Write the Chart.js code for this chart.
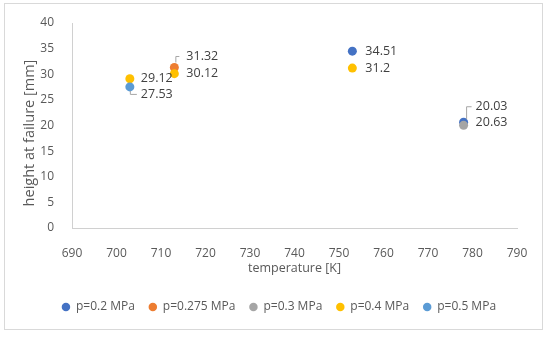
<html lang="en">

<head>
  <meta charset="utf-8">
  <script src="https://cdn.jsdelivr.net/npm/chart.js"></script>
  <style>
    body { margin: 0; background: #fff; }
    .box {
      position: absolute; left: 4px; top: 3px;
      width: 539px; height: 327px;
      box-sizing: border-box; border: 1px solid #d9d9d9;
    }
    .box canvas { display: block; }
  </style>
</head>

<body>
  <div class="box">
    <canvas id="graphique" width="537" height="325"></canvas>
  </div>

  <script>
    // data
    const seriesNames = ['p=0.2 MPa', 'p=0.275 MPa', 'p=0.3 MPa', 'p=0.4 MPa', 'p=0.5 MPa'];
    const p02Temp = [753, 778];
    const p02Height = [34.51, 20.63];
    const p0275Temp = [713];
    const p0275Height = [31.32];
    const p03Temp = [778];
    const p03Height = [20.03];
    const p04Temp = [703, 713, 753];
    const p04Height = [29.12, 30.12, 31.2];
    const p05Temp = [703];
    const p05Height = [27.53];
    const xTicks = [690, 700, 710, 720, 730, 740, 750, 760, 770, 780, 790];
    const yTicks = [0, 5, 10, 15, 20, 25, 30, 35, 40];

    const colors = ['#4472C4', '#ED7D31', '#A5A5A5', '#FFC000', '#5B9BD5'];

    // label placement (pixels from the point) and optional leader lines
    const labelPlace = [
      [{ dx: 13, dy: 0 }, { dx: 12, dy: 0 }],
      [{ dx: 12, dy: -11, leader: [[5, -11], [1.5, -11], [1.5, -5]] }],
      [{ dx: 12, dy: -18.6, leader: [[8, -18.6], [3, -18.6], [3, -6]] }],
      [{ dx: 11, dy: 0 }, { dx: 12, dy: 0 }, { dx: 13, dy: 0 }],
      [{ dx: 11, dy: 7.5, leader: [[0.5, 4], [0.5, 7.5], [7, 7.5]] }]
    ];

    const temps = [p02Temp, p0275Temp, p03Temp, p04Temp, p05Temp];
    const heights = [p02Height, p0275Height, p03Height, p04Height, p05Height];

    const datasets = seriesNames.map((name, i) => ({
      label: name,
      data: temps[i].map((t, j) => ({ x: t, y: heights[i][j] })),
      backgroundColor: colors[i],
      borderColor: colors[i],
      borderWidth: 0,
      pointRadius: 4.5,
      pointHoverRadius: 4.5,
      order: seriesNames.length - i
    }));

    const valueLabels = {
      id: 'valueLabels',
      afterDatasetsDraw(chart) {
        const ctx = chart.ctx;
        ctx.save();
        ctx.font = '12.5px "Open Sans"';
        ctx.textBaseline = 'middle';
        ctx.textAlign = 'left';
        chart.data.datasets.forEach((ds, i) => {
          const meta = chart.getDatasetMeta(i);
          meta.data.forEach((pt, j) => {
            const place = labelPlace[i][j];
            if (place.leader) {
              ctx.strokeStyle = '#a6a6a6';
              ctx.lineWidth = 1;
              ctx.beginPath();
              place.leader.forEach((p, k) => {
                const px = pt.x + p[0], py = pt.y + p[1];
                if (k === 0) ctx.moveTo(px, py); else ctx.lineTo(px, py);
              });
              ctx.stroke();
            }
            ctx.fillStyle = '#404040';
            ctx.fillText(String(heights[i][j]), pt.x + place.dx, pt.y + place.dy);
          });
        });
        ctx.restore();
      }
    };

    // nudge the legend right, it sits under the plot area in the original
    const legendShift = {
      id: 'legendShift',
      afterLayout(chart) {
        chart.legend.left += 18;
        chart.legend.right += 18;
      }
    };

    const textColor = '#595959';
    const axisColor = '#d0d0d0';

    new Chart(document.getElementById('graphique'), {
      type: 'scatter',
      data: { datasets: datasets },
      plugins: [valueLabels, legendShift],
      options: {
        responsive: false,
        animation: false,
        layout: { padding: { left: 0, right: 25, top: 19, bottom: 6 } },
        plugins: {
          tooltip: { enabled: false },
          legend: {
            position: 'bottom',
            labels: {
              usePointStyle: true,
              pointStyle: 'circle',
              boxWidth: 8,
              boxHeight: 6,
              padding: 14,
              color: textColor,
              font: { family: 'Open Sans', size: 12 },
              sort: (a, b) => a.datasetIndex - b.datasetIndex
            }
          }
        },
        scales: {
          x: {
            type: 'linear',
            min: xTicks[0],
            max: xTicks[xTicks.length - 1],
            afterBuildTicks: (scale) => { scale.ticks = xTicks.map(v => ({ value: v })); },
            afterFit: (scale) => { scale.height = 59; },
            grid: { display: false },
            border: { display: true, color: axisColor, width: 1 },
            ticks: { padding: 10, color: textColor, font: { family: 'Open Sans', size: 12 } },
            title: {
              display: true,
              text: 'temperature [K]',
              color: textColor,
              font: { family: 'Open Sans', size: 12.5 },
              padding: { top: 0, bottom: 11 }
            }
          },
          y: {
            min: yTicks[0],
            max: yTicks[yTicks.length - 1],
            afterBuildTicks: (scale) => { scale.ticks = yTicks.map(v => ({ value: v })); },
            afterFit: (scale) => { scale.width = 67; },
            grid: { display: false },
            border: { display: true, color: axisColor, width: 1 },
            ticks: { padding: 10, color: textColor, font: { family: 'Open Sans', size: 12 } },
            title: {
              display: true,
              text: 'height at failure [mm]    ',
              color: textColor,
              font: { family: 'Open Sans', size: 14.5 },
              padding: { top: 16, bottom: 0 }
            }
          }
        }
      }
    });
  </script>
</body>

</html>
